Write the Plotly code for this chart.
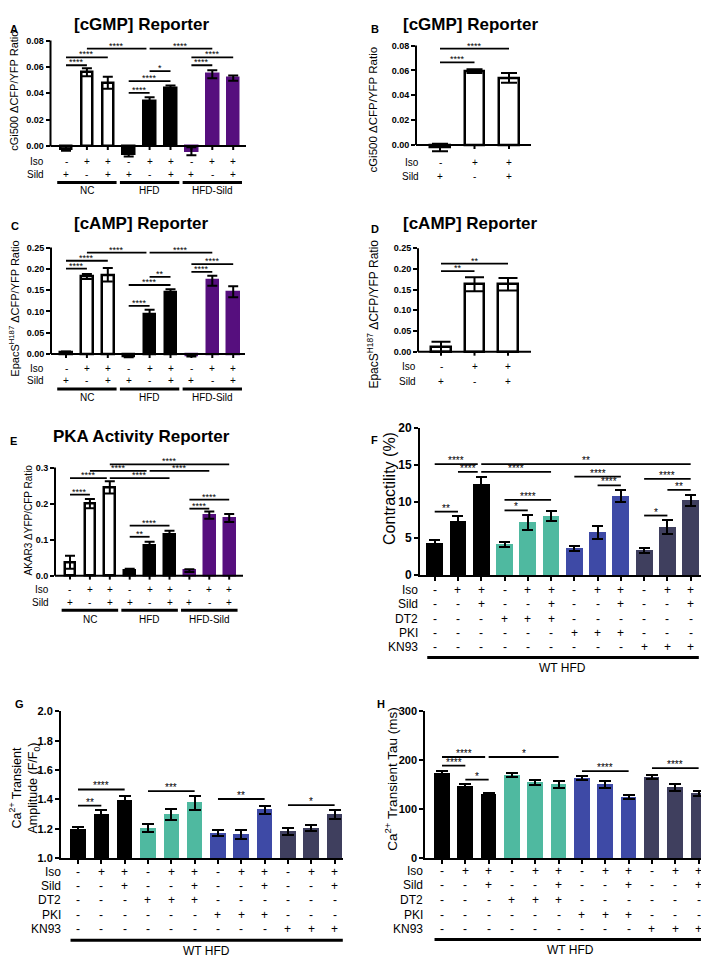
import plotly.graph_objects as go

W, H = 709, 958
FONT = "Liberation Sans, Arial, sans-serif"

# ====================== DATA ======================
# conditions shared by panels A, C, E
grp3_iso = ["-", "+", "+", "-", "+", "+", "-", "+", "+"]
grp3_sild = ["+", "-", "+", "+", "-", "+", "+", "-", "+"]
grp3_names = ["NC", "HFD", "HFD-Sild"]
grp3_members = [[0, 1, 2], [3, 4, 5], [6, 7, 8]]

# conditions shared by panels B, D
nc_iso = ["-", "+", "+"]
nc_sild = ["+", "-", "+"]

# conditions shared by panels F, G, H
wt_row_names = ["Iso", "Sild", "DT2", "PKI", "KN93"]
wt_iso = ["-", "+", "+"] * 4
wt_sild = ["-", "-", "+"] * 4
wt_dt2 = ["-"] * 3 + ["+"] * 3 + ["-"] * 6
wt_pki = ["-"] * 6 + ["+"] * 3 + ["-"] * 3
wt_kn93 = ["-"] * 9 + ["+"] * 3
wt_group_name = ["WT HFD"]
wt_members = [list(range(12))]

# Panel A  cGMP reporter
A_mean = [-0.002, 0.056, 0.048, -0.006, 0.034, 0.044, -0.004, 0.0545, 0.0515]
A_sem = [0.0015, 0.003, 0.0045, 0.002, 0.003, 0.002, 0.003, 0.003, 0.002]
A_sig_a = [0, 0, 1, 4, 3, 3, 4, 6, 6]
A_sig_b = [1, 2, 4, 7, 4, 5, 5, 7, 8]
A_sig_h = [0.0613, 0.0673, 0.074, 0.074, 0.0404, 0.0493, 0.0568, 0.0613, 0.0673]
A_sig_t = ["****", "****", "****", "****", "****", "****", "*", "****", "****"]
A_yticks = [0.0, 0.02, 0.04, 0.06, 0.08]

# Panel B  cGMP reporter (NC)
B_mean = [-0.002, 0.0595, 0.054]
B_sem = [0.003, 0.0015, 0.004]
B_sig_a = [0, 0]
B_sig_b = [1, 2]
B_sig_h = [0.0665, 0.0776]
B_sig_t = ["****", "****"]
B_yticks = [0.0, 0.02, 0.04, 0.06, 0.08]

# Panel C  cAMP reporter
C_mean = [0.003, 0.182, 0.186, -0.005, 0.094, 0.144, -0.004, 0.172, 0.146]
C_sem = [0.003, 0.006, 0.016, 0.003, 0.010, 0.008, 0.002, 0.012, 0.013]
C_sig_a = [0, 0, 1, 4, 3, 3, 4, 6, 6]
C_sig_b = [1, 2, 4, 7, 4, 5, 5, 7, 8]
C_sig_h = [0.2007, 0.219, 0.238, 0.238, 0.113, 0.162, 0.181, 0.193, 0.211]
C_sig_t = ["****", "****", "****", "****", "****", "****", "**", "****", "****"]
C_yticks = [0.0, 0.05, 0.10, 0.15, 0.20, 0.25]

# Panel D  cAMP reporter (NC)
D_mean = [0.012, 0.163, 0.163]
D_sem = [0.012, 0.017, 0.015]
D_sig_a = [0, 0]
D_sig_b = [1, 2]
D_sig_h = [0.1945, 0.213]
D_sig_t = ["**", "**"]
D_yticks = [0.0, 0.05, 0.10, 0.15, 0.20, 0.25]

# Panel E  PKA activity reporter
E_mean = [0.037, 0.200, 0.245, 0.016, 0.083, 0.116, 0.014, 0.168, 0.160]
E_sem = [0.018, 0.013, 0.017, 0.003, 0.011, 0.009, 0.004, 0.010, 0.011]
E_sig_a = [0, 0, 2, 1, 4, 2, 3, 3, 6, 6]
E_sig_b = [1, 2, 5, 4, 7, 8, 4, 5, 7, 8]
E_sig_h = [0.225, 0.271, 0.271, 0.291, 0.291, 0.309, 0.108, 0.139, 0.186, 0.211]
E_sig_t = ["****", "****", "****", "****", "****", "****", "**", "****", "****", "****"]
E_yticks = [0.0, 0.1, 0.2, 0.3]

# Panel F  contractility
F_mean = [4.4, 7.3, 12.4, 4.15, 7.15, 8.05, 3.6, 5.8, 10.8, 3.35, 6.5, 10.15]
F_sem = [0.35, 0.75, 0.9, 0.35, 1.0, 0.7, 0.3, 0.9, 0.8, 0.3, 0.95, 0.8]
F_sig_a = [0, 0, 1, 2, 2, 3, 3, 6, 7, 9, 9, 10]
F_sig_b = [1, 2, 2, 5, 11, 4, 5, 8, 8, 11, 10, 11]
F_sig_h = [8.63, 15.1, 14.05, 14.05, 15.1, 8.8, 10.24, 13.4, 12.2, 13.1, 8.1, 11.6]
F_sig_t = ["**", "****", "****", "****", "**", "*", "****", "****", "****", "****", "*", "**"]
F_yticks = [0, 5, 10, 15, 20]

# Panel G  Ca transient amplitude
G_mean = [1.195, 1.297, 1.393, 1.205, 1.297, 1.377, 1.172, 1.161, 1.330, 1.180, 1.204, 1.298]
G_sem = [0.018, 0.03, 0.03, 0.025, 0.038, 0.048, 0.018, 0.03, 0.028, 0.024, 0.02, 0.03]
G_sig_a = [0, 0, 3, 6, 9]
G_sig_b = [1, 2, 5, 8, 11]
G_sig_h = [1.358, 1.468, 1.457, 1.403, 1.362]
G_sig_t = ["**", "****", "***", "**", "*"]
G_yticks = [1.0, 1.2, 1.4, 1.6, 1.8, 2.0]

# Panel H  Ca transient tau
H_mean = [174, 147.5, 131, 169.5, 155, 151.5, 164, 151.5, 125, 166, 144.5, 132.5]
H_sem = [4, 3.5, 3.5, 4, 5.5, 7, 4.5, 7, 4, 4.5, 6.5, 5.5]
H_sig_a = [0, 0, 2, 1, 6, 9]
H_sig_b = [1, 2, 5, 2, 8, 11]
H_sig_h = [189.5, 207, 207, 160.7, 178.2, 184.2]
H_sig_t = ["****", "****", "*", "*", "****", "****"]
H_yticks = [0, 100, 200, 300]

# ====================== STYLE ======================
WHITE, BLACK, PURPLE = "#ffffff", "#000000", "#560f7e"
TEAL, BLUE, SLATE = "#4fb9a0", "#3e4aa6", "#3f3f5e"
grp3_fill = [WHITE] * 3 + [BLACK] * 3 + [PURPLE] * 3
grp3_line = [BLACK] * 3 + [BLACK] * 3 + [PURPLE] * 3
nc_fill = [WHITE] * 3
nc_line = [BLACK] * 3
wt_fill = [BLACK] * 3 + [TEAL] * 3 + [BLUE] * 3 + [SLATE] * 3

fig = go.Figure()
shapes = []
annots = []
axes = {}


def fx(p):
    return p / W


def fy(p):
    return 1 - p / H


def text(t, x, y, size, bold=False, xanchor="center", yanchor="middle",
         xref="paper", yref="paper", angle=0, yshift=0):
    annots.append(dict(
        text=t, x=x, y=y, xref=xref, yref=yref, xanchor=xanchor, yanchor=yanchor,
        showarrow=False, textangle=angle, yshift=yshift,
        font=dict(family=FONT, size=size, color="black",
                  weight="bold" if bold else "normal")))


def panel(k, cfg, mean, sem, fills, lines, sig_a, sig_b, sig_h, sig_t, yticks,
          tickfmt, row_names, rows, group_names=None, members=None, native=False):
    ax = "" if k == 1 else str(k)
    xn, yn = "x" + ax, "y" + ax
    n = len(mean)
    ybase = yticks[0]
    ppu = (cfg["y0"] - cfg["ytp"]) / (yticks[-1] - ybase)

    def ypix(v):
        return cfg["y0"] - (v - ybase) * ppu

    xmin = (cfg["axx"] - cfg["c0"]) / cfg["dx"]
    xmax = (cfg["xend"] - cfg["c0"]) / cfg["dx"]
    ymin, ymax = cfg["yr"]
    axes["xaxis" + ax] = dict(
        domain=[fx(cfg["axx"]), fx(cfg["xend"])], range=[xmin, xmax], anchor=yn,
        showgrid=False, zeroline=False, showticklabels=False, fixedrange=True,
        showline=native, linewidth=2, linecolor="black",
        ticks="outside" if native else "", tickvals=list(range(n)),
        ticklen=4, tickwidth=2, tickcolor="black")
    axes["yaxis" + ax] = dict(
        domain=[fy(ypix(ymin)), fy(ypix(ymax))], range=[ymin, ymax], anchor=xn,
        showgrid=False, zeroline=False, fixedrange=True,
        showline=native, linewidth=2, linecolor="black",
        ticks="outside", ticklen=4, tickwidth=2, tickcolor="black",
        tickvals=yticks, ticktext=[format(v, tickfmt) for v in yticks],
        tickfont=dict(family=FONT, size=cfg["tfs"], color="black", weight="bold"))

    fig.add_trace(go.Bar(
        x=list(range(n)), y=mean, width=cfg["bw"], xaxis=xn, yaxis=yn,
        marker=dict(color=fills, line=dict(color=lines, width=cfg["lw"])),
        error_y=dict(type="data", array=sem, visible=True, color="black",
                     thickness=2, width=cfg["cap"]),
        showlegend=False, hoverinfo="skip"))

    if not native:
        shapes.append(dict(type="line", xref=xn + " domain", x0=0, x1=0, yref=yn,
                           y0=ybase, y1=yticks[-1], line=dict(color="black", width=2)))
        shapes.append(dict(type="line", xref=xn + " domain", x0=0, x1=1, yref=yn,
                           y0=ybase, y1=ybase, line=dict(color="black", width=2)))
        for i in range(n):
            shapes.append(dict(type="line", xref=xn, x0=i, x1=i, yref=yn,
                               y0=ybase, y1=ybase - 4 / ppu,
                               line=dict(color="black", width=2)))

    # significance bars
    for a, b, h, t in zip(sig_a, sig_b, sig_h, sig_t):
        x1 = b
        for a2, h2 in zip(sig_a, sig_h):
            if a2 == b and abs(h2 - h) < 1e-9:
                x1 = b - 0.15
        shapes.append(dict(type="line", xref=xn, yref=yn, x0=a, x1=x1, y0=h, y1=h,
                           line=dict(color="black", width=1.8)))
        text(t, (a + x1) / 2, h, cfg["sfs"], xref=xn, yref=yn, yanchor="bottom",
             yshift=cfg["sys"])

    # condition rows
    for r, (name, signs) in enumerate(zip(row_names, rows)):
        yy = fy(cfg["rowy"][r])
        text(name, fx(cfg["rowx"]), yy, cfg["rfs"], xanchor="right")
        for i, s in enumerate(signs):
            text(s, i, yy, cfg["rfs"], xref=xn)

    # group underlines
    if group_names:
        for g, mem in zip(group_names, members):
            shapes.append(dict(type="line", xref=xn, yref="paper",
                               x0=mem[0] - cfg["ulpad"][0], x1=mem[-1] + cfg["ulpad"][1],
                               y0=fy(cfg["uly"]), y1=fy(cfg["uly"]),
                               line=dict(color="black", width=3)))
            text(g, (mem[0] + mem[-1]) / 2, fy(cfg["gly"]), cfg["gfs"], xref=xn)


base3 = dict(lw=2.5, sfs=9, sys=-4, rfs=10, gfs=10, tfs=9, ulpad=(0.42, 0.42))
cfgA = dict(base3, axx=42.5, xend=238, c0=58, dx=20.9, y0=133, ytp=26,
            yr=(-0.01, 0.085), bw=0.55, cap=5, rowx=38, rowy=[149, 162],
            uly=170, gly=178.5)
cfgB = dict(base3, axx=408, xend=523, c0=432, dx=34.5, y0=132, ytp=31,
            yr=(-0.01, 0.085), bw=0.565, cap=8, rowx=413, rowy=[150, 164])
cfgC = dict(base3, axx=43, xend=237, c0=58, dx=20.9, y0=344, ytp=236,
            yr=(-0.03, 0.26), bw=0.55, cap=5, rowx=38, rowy=[359, 371],
            uly=379.5, gly=388)
cfgD = dict(base3, axx=410, xend=523, c0=433, dx=33.5, y0=341.7, ytp=236.7,
            yr=(-0.03, 0.26), bw=0.57, cap=9.5, rowx=410, rowy=[357, 372])
cfgE = dict(base3, axx=47, xend=235, c0=62, dx=19.9, y0=569, ytp=459.3,
            yr=(-0.02, 0.32), bw=0.54, cap=5, rowx=43, rowy=[583, 596],
            uly=604, gly=613)
base_wt = dict(lw=0, sfs=10, sys=-4, rfs=12, gfs=12, ulpad=(0.32, 0.35))
cfgF = dict(base_wt, axx=412, xend=700, c0=426.7, dx=23.27, y0=568.3, ytp=419.3,
            yr=(0, 20), bw=0.72, cap=5.5, tfs=12, rowx=412,
            rowy=[583.5, 598, 612.5, 627, 641], uly=652, gly=662.7)
cfgG = dict(base_wt, axx=53, xend=335, c0=70, dx=23.33, y0=855.7, ytp=706.7,
            yr=(1.0, 2.0), bw=0.67, cap=6, tfs=11, rowx=55,
            rowy=[869.3, 884.3, 898.3, 913.3, 927.3], uly=939, gly=950)
cfgH = dict(base_wt, axx=417.3, xend=701.7, c0=434, dx=23.33, y0=856, ytp=706.7,
            yr=(0, 300), bw=0.67, cap=6, tfs=11, rowx=417,
            rowy=[869, 883.3, 897.7, 913, 927.3], uly=938.3, gly=949.3)

rows3 = [grp3_iso, grp3_sild]
rowsnc = [nc_iso, nc_sild]
rowswt = [wt_iso, wt_sild, wt_dt2, wt_pki, wt_kn93]
rn2 = ["Iso", "Sild"]

panel(1, cfgA, A_mean, A_sem, grp3_fill, grp3_line, A_sig_a, A_sig_b, A_sig_h, A_sig_t,
      A_yticks, ".2f", rn2, rows3, grp3_names, grp3_members)
panel(2, cfgB, B_mean, B_sem, nc_fill, nc_line, B_sig_a, B_sig_b, B_sig_h, B_sig_t,
      B_yticks, ".2f", rn2, rowsnc)
panel(3, cfgC, C_mean, C_sem, grp3_fill, grp3_line, C_sig_a, C_sig_b, C_sig_h, C_sig_t,
      C_yticks, ".2f", rn2, rows3, grp3_names, grp3_members)
panel(4, cfgD, D_mean, D_sem, nc_fill, nc_line, D_sig_a, D_sig_b, D_sig_h, D_sig_t,
      D_yticks, ".2f", rn2, rowsnc)
panel(5, cfgE, E_mean, E_sem, grp3_fill, grp3_line, E_sig_a, E_sig_b, E_sig_h, E_sig_t,
      E_yticks, ".1f", rn2, rows3, grp3_names, grp3_members)
panel(6, cfgF, F_mean, F_sem, wt_fill, wt_fill, F_sig_a, F_sig_b, F_sig_h, F_sig_t,
      F_yticks, "d", wt_row_names, rowswt, wt_group_name, wt_members, native=True)
panel(7, cfgG, G_mean, G_sem, wt_fill, wt_fill, G_sig_a, G_sig_b, G_sig_h, G_sig_t,
      G_yticks, ".1f", wt_row_names, rowswt, wt_group_name, wt_members, native=True)
panel(8, cfgH, H_mean, H_sem, wt_fill, wt_fill, H_sig_a, H_sig_b, H_sig_h, H_sig_t,
      H_yticks, "d", wt_row_names, rowswt, wt_group_name, wt_members, native=True)

# panel letters
for L, x, y in [("A", 6, 14), ("B", 366.5, 14), ("C", 6.5, 214), ("D", 366.5, 217),
                ("E", 5, 432), ("F", 366.5, 431), ("G", 11.3, 699), ("H", 373, 699)]:
    text(L, fx(x), fy(y), 11, bold=True)

# panel titles
for t, x, y in [("[cGMP] Reporter", 133, 10), ("[cGMP] Reporter", 462.5, 10),
                ("[cAMP] Reporter", 133, 212), ("[cAMP] Reporter", 462.5, 212),
                ("PKA Activity Reporter", 133, 427.5)]:
    text(t, fx(x), fy(y), 17, bold=True)

# y-axis titles
for t, x, y, s in [("cGi500 \u0394CFP/YFP Ratio", 6, 77, 11),
                   ("cGi500 \u0394CFP/YFP Ratio", 365, 96, 11.5),
                   ("EpacS<sup>H187</sup> \u0394CFP/YFP Ratio", 6, 298, 11),
                   ("EpacS<sup>H187</sup> \u0394CFP/YFP Ratio", 365, 304, 12),
                   ("AKAR3 \u0394YFP/CFP Ratio", 21, 513, 10),
                   ("Contractility (%)", 382, 481, 16),
                   ("Ca<sup>2+</sup> Transient<br>Amplitude (F/F<sub>0</sub>)", 16, 785, 12.5),
                   ("Ca<sup>2+</sup> Transient Tau (ms)", 383, 776, 13.5)]:
    text(t, fx(x), fy(y), s, angle=-90)

fig.update_layout(
    width=W, height=H, margin=dict(l=0, r=0, t=0, b=0),
    paper_bgcolor="white", plot_bgcolor="rgba(0,0,0,0)",
    font=dict(family=FONT, color="black"),
    shapes=shapes, annotations=annots, showlegend=False, bargap=0,
    **axes)

fig.write_html("out.html")
